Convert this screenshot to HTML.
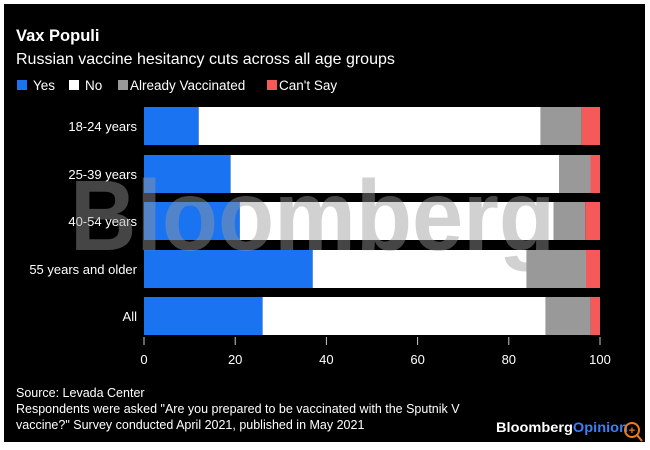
<!DOCTYPE html>
<html><head><meta charset="utf-8"><style>
html,body{margin:0;padding:0;background:#fff;width:650px;height:450px;overflow:hidden}
svg{display:block}
text{font-family:"Liberation Sans",Arial,sans-serif}
</style></head><body>
<svg width="650" height="450" viewBox="0 0 650 450">
<rect x="4" y="4" width="641" height="438" fill="#000"/>
<text x="16" y="41" fill="#fff" font-size="16.5" font-weight="bold">Vax Populi</text>
<text x="16" y="64" fill="#fff" font-size="16">Russian vaccine hesitancy cuts across all age groups</text>
<g font-size="13.5" fill="#fff">
<rect x="17" y="80" width="10" height="10" fill="#1a73f0"/><text x="33" y="90">Yes</text>
<rect x="69" y="80" width="10" height="10" fill="#fff"/><text x="85" y="90">No</text>
<rect x="118" y="80" width="10" height="10" fill="#999"/><text x="130" y="90">Already Vaccinated</text>
<rect x="267" y="80" width="10" height="10" fill="#f45a5a"/><text x="279" y="90">Can't Say</text>
</g>
<g font-size="13" fill="#fff" text-anchor="end">
<text x="137" y="131">18-24 years</text>
<text x="137" y="179">25-39 years</text>
<text x="137" y="226">40-54 years</text>
<text x="137" y="274">55 years and older</text>
<text x="137" y="321">All</text>
</g>
<g>
<rect x="144" y="107" width="54.7" height="38" fill="#1a73f0"/><rect x="198.7" y="107" width="342" height="38" fill="#fff"/><rect x="540.7" y="107" width="41" height="38" fill="#999"/><rect x="581.7" y="107" width="18.3" height="38" fill="#f45a5a"/>
<rect x="144" y="155" width="86.6" height="38" fill="#1a73f0"/><rect x="230.6" y="155" width="328.4" height="38" fill="#fff"/><rect x="559" y="155" width="31.5" height="38" fill="#999"/><rect x="590.5" y="155" width="9.5" height="38" fill="#f45a5a"/>
<rect x="144" y="202" width="95.8" height="38" fill="#1a73f0"/><rect x="239.8" y="202" width="314" height="38" fill="#fff"/><rect x="553.8" y="202" width="31.5" height="38" fill="#999"/><rect x="585.3" y="202" width="14.7" height="38" fill="#f45a5a"/>
<rect x="144" y="250" width="168.7" height="38" fill="#1a73f0"/><rect x="312.7" y="250" width="214" height="38" fill="#fff"/><rect x="526.7" y="250" width="59.3" height="38" fill="#999"/><rect x="586" y="250" width="14" height="38" fill="#f45a5a"/>
<rect x="144" y="297" width="118.6" height="38" fill="#1a73f0"/><rect x="262.6" y="297" width="283" height="38" fill="#fff"/><rect x="545.6" y="297" width="45" height="38" fill="#999"/><rect x="590.6" y="297" width="9.4" height="38" fill="#f45a5a"/>
</g>
<text x="70" y="250" font-size="100" font-weight="bold" fill="#999" fill-opacity="0.45" textLength="485" lengthAdjust="spacingAndGlyphs">Bloomberg</text>
<g stroke="#ccc" stroke-width="1">
<line x1="144" y1="337" x2="144" y2="345"/><line x1="235.2" y1="337" x2="235.2" y2="345"/><line x1="326.4" y1="337" x2="326.4" y2="345"/><line x1="417.6" y1="337" x2="417.6" y2="345"/><line x1="508.8" y1="337" x2="508.8" y2="345"/><line x1="600" y1="337" x2="600" y2="345"/>
</g>
<g font-size="13" fill="#fff" text-anchor="middle">
<text x="144" y="364">0</text><text x="235.2" y="364">20</text><text x="326.4" y="364">40</text><text x="417.6" y="364">60</text><text x="508.8" y="364">80</text><text x="600" y="364">100</text>
</g>
<g font-size="12.5" fill="#fff">
<text x="16" y="397">Source: Levada Center</text>
<text x="16" y="413">Respondents were asked "Are you prepared to be vaccinated with the Sputnik V</text>
<text x="16" y="429">vaccine?" Survey conducted April 2021, published in May 2021</text>
</g>
<text x="496" y="432" font-size="14" font-weight="bold" fill="#fff" textLength="132" lengthAdjust="spacingAndGlyphs">Bloomberg<tspan fill="#3b7ff5">Opinion</tspan></text>
<circle cx="632" cy="430" r="7" fill="none" stroke="#f07a1a" stroke-width="2"/>
<line x1="637" y1="435" x2="642" y2="441" stroke="#f07a1a" stroke-width="2"/>
<text x="632" y="434" font-size="11" font-weight="bold" fill="#f07a1a" text-anchor="middle">+</text>
</svg>
</body></html>
